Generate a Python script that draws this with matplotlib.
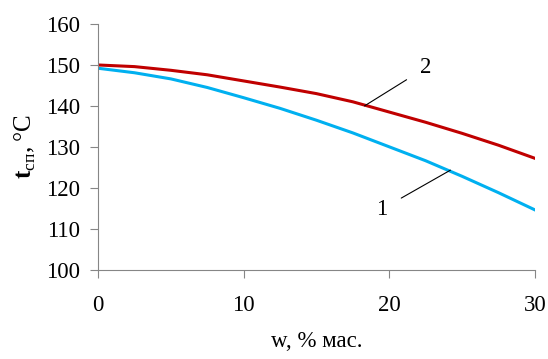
import matplotlib.pyplot as plt

plt.rcParams['font.family'] = ['Liberation Serif', 'DejaVu Serif']
plt.rcParams['mathtext.fontset'] = 'custom'
plt.rcParams['mathtext.rm'] = 'Liberation Serif'
plt.rcParams['mathtext.bf'] = 'Liberation Serif:bold'

w = [0, 2.5, 5, 7.5, 10, 12.5, 15, 17.5, 20, 22.5, 25, 27.5, 30]
t1 = [149.2, 148.1, 146.6, 144.5, 142.0, 139.4, 136.5, 133.4, 130.0, 126.6, 122.8, 118.8, 114.6]
t2 = [150.0, 149.6, 148.7, 147.6, 146.1, 144.6, 143.0, 141.0, 138.5, 136.0, 133.3, 130.4, 127.2]
xticks = [0, 10, 20, 30]
yticks = [100, 110, 120, 130, 140, 150, 160]

fig = plt.figure(figsize=(5.48, 3.59), dpi=100)
ax = fig.add_axes([0.179, 0.249, 0.797, 0.684])

ax.plot(w, t1, color='#00B0F0', lw=2.2)
ax.plot(w, t2, color='#C00000', lw=2.2)

ax.set_xlim(0, 30)
ax.set_ylim(100, 160)
ax.set_xticks(xticks)
ax.set_yticks(yticks)

for s in ['top', 'right']:
    ax.spines[s].set_visible(False)
for s in ['left', 'bottom']:
    ax.spines[s].set_color('#868686')
ax.tick_params(colors='#868686', labelcolor='black', labelsize=16.5, length=6, direction='out')
ax.tick_params(axis='x', pad=12)
ax.tick_params(axis='y', pad=7)

ax.set_xlabel('w, % мас.', fontsize=16.5, labelpad=11)
ax.set_ylabel(r'$\mathbf{t}_{\mathregular{сп}}\mathregular{, °C}$', fontsize=18, labelpad=6)

# curve labels with leader lines
ax.annotate('1', xy=(24.2, 124.3), xytext=(19.5, 114.8), fontsize=16.5,
            ha='center', va='center',
            arrowprops=dict(arrowstyle='-', color='black', lw=0.8, shrinkA=9, shrinkB=0))
ax.annotate('2', xy=(18.3, 140.0), xytext=(22.5, 149.3), fontsize=16.5,
            ha='center', va='center',
            arrowprops=dict(arrowstyle='-', color='black', lw=0.8, shrinkA=9, shrinkB=0))

fig.savefig('out.png', dpi=100)
